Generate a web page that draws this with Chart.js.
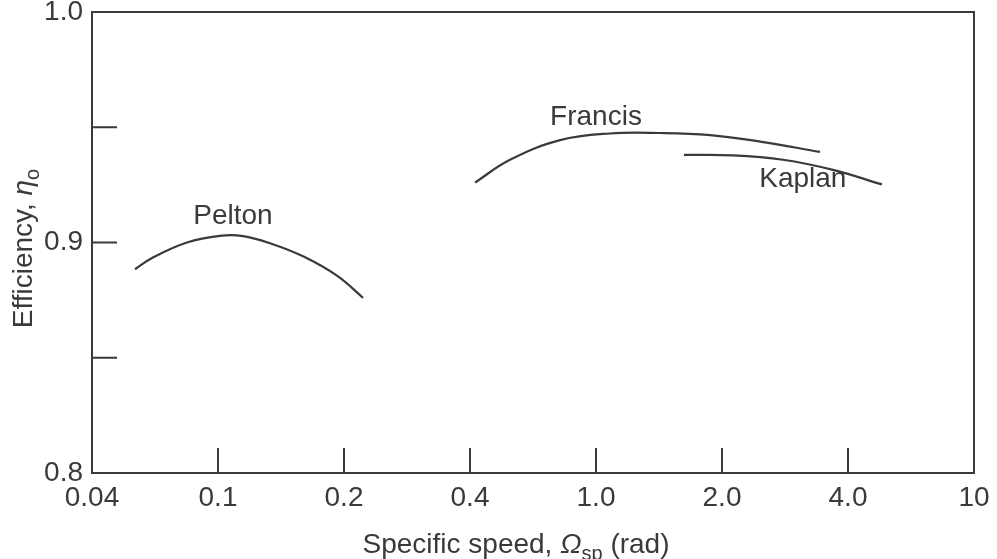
<!DOCTYPE html>
<html>
<head>
<meta charset="utf-8">
<script src="https://cdn.jsdelivr.net/npm/chart.js@4/dist/chart.umd.min.js"></script>
<style>
  html, body { margin: 0; padding: 0; background: #fff; }
  #wrap { width: 997px; height: 559px; }
</style>
</head>
<body>
<div id="wrap"><canvas id="chart" width="997" height="559"></canvas></div>
<script>
// x axis ticks are evenly spaced (not a true log scale)
const tickValues = [0.04, 0.1, 0.2, 0.4, 1.0, 2.0, 4.0, 10];
const tickLabels = ["0.04", "0.1", "0.2", "0.4", "1.0", "2.0", "4.0", "10"];
const effTicks = [0.8, 0.9, 1.0];
const effMinorTicks = [0.85, 0.9, 0.95];

const peltonSpeed = [0.0547, 0.0623, 0.0798, 0.1011, 0.1147, 0.1331, 0.1597, 0.1924, 0.2221];
const peltonEff   = [0.8884, 0.8935, 0.9000, 0.9029, 0.9028, 0.8997, 0.8940, 0.8856, 0.8760];

const francisSpeed = [0.415, 0.535, 0.770, 1.080, 1.422, 1.873, 2.466, 3.43];
const francisEff   = [0.9260, 0.9359, 0.9444, 0.9473, 0.9475, 0.9466, 0.9438, 0.9393];

const kaplanSpeed = [1.622, 2.123, 2.797, 3.683, 5.12];
const kaplanEff   = [0.9380, 0.9378, 0.9359, 0.9315, 0.9252];

const curveLabels = [
  { text: "Pelton", speed: 0.1086, eff: 0.9113 },
  { text: "Francis", speed: 1.0, eff: 0.9543 },
  { text: "Kaplan", speed: 3.12, eff: 0.9276 },
];

const ink = "#3a3a3a";
const fontFamily = "'Liberation Sans', Arial, Helvetica, sans-serif";

// position on the evenly spaced tick axis, log-interpolated inside each step
function toPos(v) {
  for (let i = 0; i < tickValues.length - 1; i++) {
    if (v <= tickValues[i + 1]) {
      return i + Math.log(v / tickValues[i]) / Math.log(tickValues[i + 1] / tickValues[i]);
    }
  }
  return tickValues.length - 1;
}

function series(speeds, effs) {
  return speeds.map((s, i) => ({ x: toPos(s), y: effs[i] }));
}

const framePlugin = {
  id: "frame",
  afterDraw(chart) {
    const { ctx, chartArea: a, scales } = chart;
    const xs = scales.x, ys = scales.y;
    ctx.save();
    ctx.strokeStyle = ink;
    ctx.lineWidth = 2;
    ctx.strokeRect(a.left, a.top, a.right - a.left, a.bottom - a.top);

    // inward tick marks
    ctx.beginPath();
    effMinorTicks.forEach(v => {
      const y = ys.getPixelForValue(v);
      ctx.moveTo(a.left, y);
      ctx.lineTo(a.left + 25, y);
    });
    for (let i = 1; i < tickValues.length - 1; i++) {
      const x = xs.getPixelForValue(i);
      ctx.moveTo(x, a.bottom);
      ctx.lineTo(x, a.bottom - 25);
    }
    ctx.stroke();

    // curve labels
    ctx.fillStyle = ink;
    ctx.font = "28px " + fontFamily;
    ctx.textAlign = "center";
    ctx.textBaseline = "middle";
    curveLabels.forEach(l => {
      ctx.fillText(l.text, xs.getPixelForValue(toPos(l.speed)), ys.getPixelForValue(l.eff));
    });

    // x axis title: Specific speed, Ω_sp (rad)
    const base = chart.height - 6;
    const parts = [
      { t: "Specific speed, ", f: "28px " + fontFamily, dy: 0 },
      { t: "\u03A9", f: "italic 28px " + fontFamily, dy: 0 },
      { t: "sp", f: "20px " + fontFamily, dy: 7 },
      { t: " (rad)", f: "28px " + fontFamily, dy: 0 },
    ];
    let total = 0;
    parts.forEach(p => { ctx.font = p.f; p.w = ctx.measureText(p.t).width; total += p.w; });
    let x = (a.left + a.right) / 2 - 17 - total / 2;
    ctx.textAlign = "left";
    ctx.textBaseline = "alphabetic";
    parts.forEach(p => { ctx.font = p.f; ctx.fillText(p.t, x, base + p.dy); x += p.w; });

    // y axis title: Efficiency, η_o
    ctx.translate(32, (a.top + a.bottom) / 2 + 6);
    ctx.rotate(-Math.PI / 2);
    const yparts = [
      { t: "Efficiency, ", f: "28px " + fontFamily, dy: 0 },
      { t: "\u03B7", f: "italic 28px " + fontFamily, dy: 0 },
      { t: "o", f: "20px " + fontFamily, dy: 7 },
    ];
    total = 0;
    yparts.forEach(p => { ctx.font = p.f; p.w = ctx.measureText(p.t).width; total += p.w; });
    x = -total / 2;
    yparts.forEach(p => { ctx.font = p.f; ctx.fillText(p.t, x, p.dy); x += p.w; });
    ctx.restore();
  },
};

const lineStyle = {
  borderColor: ink,
  borderWidth: 2.2,
  pointRadius: 0,
  showLine: true,
  tension: 0.4,
  fill: false,
};

new Chart(document.getElementById("chart"), {
  type: "scatter",
  data: {
    datasets: [
      { label: "Pelton", data: series(peltonSpeed, peltonEff), ...lineStyle },
      { label: "Francis", data: series(francisSpeed, francisEff), ...lineStyle },
      { label: "Kaplan", data: series(kaplanSpeed, kaplanEff), ...lineStyle },
    ],
  },
  options: {
    responsive: false,
    devicePixelRatio: 1,
    animation: { duration: 0 },
    layout: { padding: { top: 12, right: 23, left: 0, bottom: 0 } },
    plugins: {
      legend: { display: false },
      tooltip: { enabled: false },
    },
    scales: {
      x: {
        type: "linear",
        min: 0,
        max: tickValues.length - 1,
        afterBuildTicks: (scale) => {
          scale.ticks = tickValues.map((v, i) => ({ value: i }));
        },
        afterFit: (scale) => {
          scale.height = 86;
          scale.paddingLeft = 0;
          scale.paddingRight = 0;
        },
        grid: { display: false, drawTicks: false },
        border: { display: false },
        ticks: {
          padding: 8,
          maxRotation: 0,
          autoSkip: false,
          color: ink,
          font: { family: fontFamily, size: 28 },
          callback: (v) => tickLabels[v],
        },
      },
      y: {
        min: 0.8,
        max: 1.0,
        afterBuildTicks: (scale) => {
          scale.ticks = effTicks.map(v => ({ value: v }));
        },
        afterFit: (scale) => {
          scale.width = 92;
          scale.paddingTop = 0;
          scale.paddingBottom = 0;
        },
        grid: { display: false, drawTicks: false },
        border: { display: false },
        ticks: {
          padding: 9,
          color: ink,
          font: { family: fontFamily, size: 28, lineHeight: 1 },
          callback: (v) => v.toFixed(1),
        },
      },
    },
  },
  plugins: [framePlugin],
});
</script>
</body>
</html>
